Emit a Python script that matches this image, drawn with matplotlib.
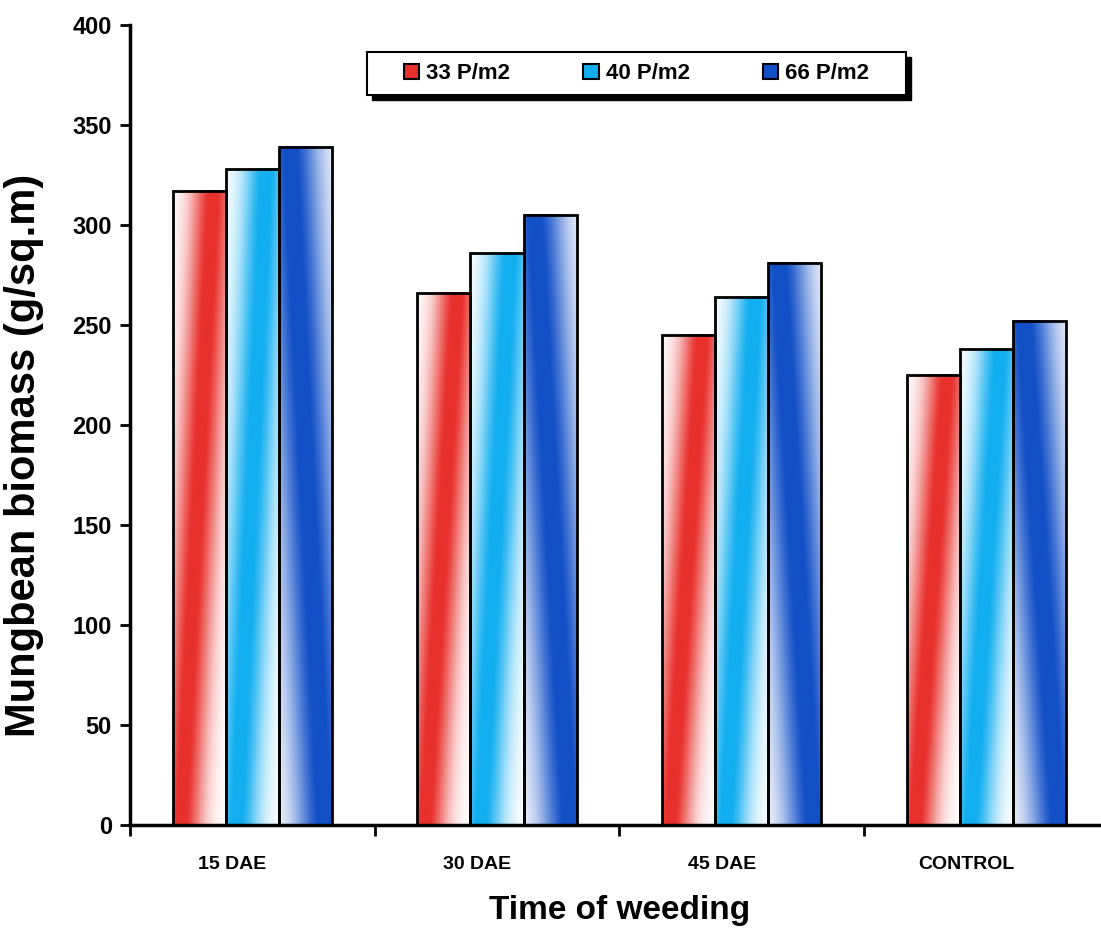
import numpy as np
import matplotlib
matplotlib.use('Agg')
import matplotlib.pyplot as plt
import matplotlib.transforms as mtransforms
from matplotlib.colors import to_rgb
from matplotlib.patches import Patch, Rectangle

plt.rcParams['font.family'] = ['Liberation Sans', 'DejaVu Sans']

# data
categories = ['15 DAE', '30 DAE', '45 DAE', 'CONTROL']
series = ['33 P/m2', '40 P/m2', '66 P/m2']
p33 = [317, 266, 245, 225]
p40 = [328, 286, 264, 238]
p66 = [339, 305, 281, 252]
values = [p33, p40, p66]

colors = ['#e8302c', '#12aef0', '#1250c8']
# where the coloured band sits at the bottom / top of a bar (fraction of bar width)
band_bottom = [0.15, 0.2, 0.85]
band_top = [0.75, 0.75, 0.2]
band_width = [0.4, 0.42, 0.55]


def gradient_img(k, nx=60, ny=200):
    xf = np.linspace(0, 1, nx)[None, :]
    yf = np.linspace(0, 1, ny)[:, None]
    c = band_bottom[k] + (band_top[k] - band_bottom[k]) * yf
    inten = np.exp(-((xf - c) / band_width[k]) ** 2)
    inten = np.clip(inten * 1.05, 0, 1)
    col = np.array(to_rgb(colors[k]))
    img = (1 - inten[..., None]) * 1.0 + inten[..., None] * col
    return img


fig = plt.figure(figsize=(11.01, 9.43), dpi=100)
ax = fig.add_axes([0.118, 0.125, 0.889, 0.8485])

x = np.arange(len(categories))
w = 0.217
for k, vals in enumerate(values):
    pos = x + (k - 1) * w
    bars = ax.bar(pos, vals, w, facecolor='none', edgecolor='black', linewidth=2, zorder=3)
    for b in bars:
        x0 = b.get_x()
        h = b.get_height()
        ax.imshow(gradient_img(k), extent=[x0, x0 + w, 0, h], origin='lower',
                  aspect='auto', zorder=2, interpolation='bilinear')

ax.set_xlim(-0.5, 3.5)
ax.set_ylim(0, 400)
ax.set_yticks(np.arange(0, 401, 50))
ax.set_xticks(x)
ax.set_xticklabels(categories, fontsize=14, fontweight='bold')
ax.set_xticks(np.arange(-0.5, 3.5, 1), minor=True)
ax.tick_params(axis='x', which='major', length=0, pad=22)
ax.tick_params(axis='x', which='minor', length=8, width=2, direction='out')
ax.tick_params(axis='y', length=7, width=2, direction='out', labelsize=17, pad=6)
for lab in ax.get_yticklabels():
    lab.set_fontweight('bold')
# category labels sit a bit left of the group centres in the original
shift = mtransforms.ScaledTranslation(-0.2, 0, fig.dpi_scale_trans)
for lab in ax.get_xticklabels():
    lab.set_transform(lab.get_transform() + shift)

for s in ['top', 'right']:
    ax.spines[s].set_visible(False)
for s in ['left', 'bottom']:
    ax.spines[s].set_linewidth(2.5)

ax.set_ylabel('Mungbean biomass (g/sq.m)', fontsize=30, fontweight='bold')
ax.yaxis.set_label_coords(-0.088, 0.4625)
ax.set_xlabel('Time of weeding', fontsize=24, fontweight='bold', labelpad=16)

# legend box with a hard black drop shadow
bx0, bx1, by0, by1 = 0.242, 0.793, 0.9125, 0.966
off = mtransforms.ScaledTranslation(0.05, -0.05, fig.dpi_scale_trans)
ax.add_patch(Rectangle((bx0, by0), bx1 - bx0, by1 - by0, transform=ax.transAxes + off,
                       facecolor='black', edgecolor='black', zorder=5, clip_on=False))
ax.add_patch(Rectangle((bx0, by0), bx1 - bx0, by1 - by0, transform=ax.transAxes,
                       facecolor='white', edgecolor='black', linewidth=1.5, zorder=6, clip_on=False))

handles = [Patch(facecolor=colors[k], edgecolor='black', linewidth=1.5) for k in range(3)]
leg = ax.legend(handles, series, ncol=3, loc='center', bbox_to_anchor=((bx0 + bx1) / 2, (by0 + by1) / 2),
                prop={'weight': 'bold', 'size': 16}, frameon=False,
                handlelength=0.7, handleheight=0.7, handletextpad=0.3, columnspacing=3.3)
leg.set_zorder(7)

fig.savefig('out.png', dpi=100)
